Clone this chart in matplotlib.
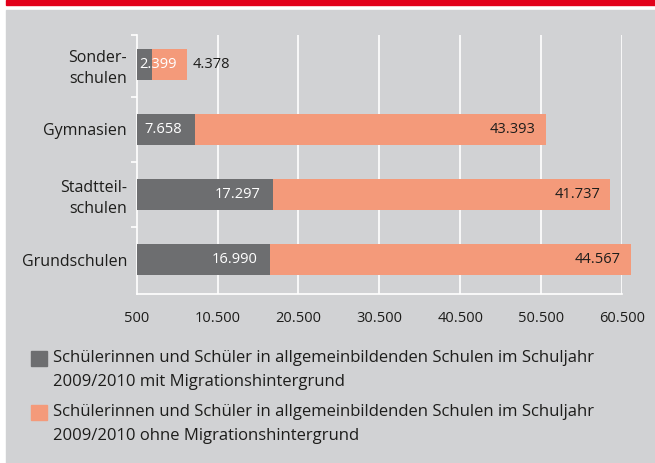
import matplotlib.pyplot as plt
from matplotlib.patches import Rectangle
from matplotlib.transforms import Bbox, TransformedBbox

plt.rcParams["font.family"] = ["Open Sans", "DejaVu Sans"]

# ---------------------------------------------------------------
# Data (bottom to top)
schularten = ["Grundschulen", "Stadtteil-\nschulen", "Gymnasien", "Sonder-\nschulen"]
mit_migration = [16990, 17297, 7658, 2399]
ohne_migration = [44567, 41737, 43393, 4378]
x_ticks = [500, 10500, 20500, 30500, 40500, 50500, 60500]
legend_labels = [
    "Schülerinnen und Schüler in allgemeinbildenden Schulen im Schuljahr\n2009/2010 mit Migrationshintergrund",
    "Schülerinnen und Schüler in allgemeinbildenden Schulen im Schuljahr\n2009/2010 ohne Migrationshintergrund",
]

# ---------------------------------------------------------------
# Colors
bg_gray = "#d1d2d4"
dark_gray = "#6d6e70"
orange = "#f49a7a"
red = "#e2001a"
text_col = "#1d1d1b"


def fmt(v):
    return f"{v:,}".replace(",", ".")


fig = plt.figure(figsize=(6.55, 4.63), dpi=100)
fig.patch.set_facecolor("white")
W, H = 655, 463

# red band + gray panel
fig.add_artist(Rectangle((6 / W, 1 - 5 / H), 1, 5 / H, transform=fig.transFigure,
                         color=red, zorder=0))
fig.add_artist(Rectangle((6 / W, 0), 1, 1 - 10 / H, transform=fig.transFigure,
                         color=bg_gray, zorder=0))

ax = fig.add_axes([136.7 / W, 1 - 294 / H, (622 - 136.7) / W, (294 - 35) / H])
ax.set_facecolor("none")

y = list(range(len(schularten)))
bars1 = ax.barh(y, mit_migration, height=0.48, color=dark_gray, zorder=3)
bars2 = ax.barh(y, ohne_migration, left=mit_migration, height=0.48, color=orange, zorder=3)

# let the bars run a little past the last gridline on the right
clip = TransformedBbox(Bbox.from_extents(0, -0.1, 1.2, 1.1), ax.transAxes)
for b in list(bars1) + list(bars2):
    b.set_clip_box(clip)

# value labels
for i in y:
    m, o = mit_migration[i], ohne_migration[i]
    if m > 5000:
        ax.annotate(fmt(m), (m, i), xytext=(-9, 0), textcoords="offset points",
                    ha="right", va="center", color="white", fontsize=10.5, zorder=4,
                    annotation_clip=False)
    else:
        ax.annotate(fmt(m), (500, i), xytext=(2, 0), textcoords="offset points",
                    ha="left", va="center", color="white", fontsize=10.5, zorder=4,
                    annotation_clip=False)
    if o > 10000:
        ax.annotate(fmt(o), (m + o, i), xytext=(-7, 0), textcoords="offset points",
                    ha="right", va="center", color=text_col, fontsize=10.5, zorder=4,
                    annotation_clip=False)
    else:
        ax.annotate(fmt(o), (m + o, i), xytext=(4, 0), textcoords="offset points",
                    ha="left", va="center", color=text_col, fontsize=10.5, zorder=4,
                    annotation_clip=False)

# ======================================================
# Axis's
ax.set_xlim(500, 60500)
ax.set_ylim(-0.53, 3.45)

ax.set_xticks(x_ticks)
ax.set_xticklabels([fmt(t) for t in x_ticks], fontsize=10.5, color=text_col)
ax.tick_params(axis="x", length=0, pad=12)

ax.set_yticks(y)
ax.set_yticklabels(schularten, fontsize=11.5, color=text_col, linespacing=1.4)
ax.tick_params(axis="y", which="major", length=0, pad=7)
ax.set_yticks([0.5, 1.5, 2.5, 3.45], minor=True)
ax.tick_params(axis="y", which="minor", length=4, width=1.2, color="white")

for x in x_ticks[1:]:
    ax.axvline(x, color="white", linewidth=1.2, zorder=1)

for s in ["top", "right"]:
    ax.spines[s].set_visible(False)
for s in ["left", "bottom"]:
    ax.spines[s].set_color("white")
    ax.spines[s].set_linewidth(1.2)

# ---------------------------------------------------------------
# Legend
leg_colors = [dark_gray, orange]
leg_y = [358, 412]
for col, lab, yy in zip(leg_colors, legend_labels, leg_y):
    fig.add_artist(Rectangle((31 / W, 1 - (yy + 8) / H), 16 / W, 15 / H,
                             transform=fig.transFigure, color=col))
    fig.text(53 / W, 1 - (yy - 8) / H, lab, fontsize=12, color=text_col,
             ha="left", va="top", linespacing=1.64)

plt.savefig("out.png", dpi=100)
plt.close()
